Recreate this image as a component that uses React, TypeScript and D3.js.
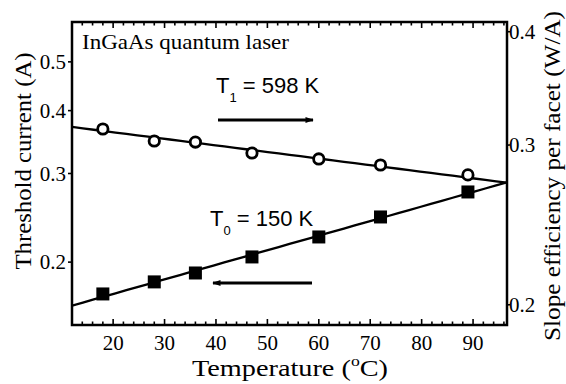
import React from "react";
import * as d3 from "d3";

const temps = [18, 28, 36, 47, 60, 72, 89];
const threshold = [0.1729, 0.1827, 0.1903, 0.2048, 0.2244, 0.2459, 0.2757];
const slope = [0.3125, 0.3031, 0.3023, 0.294, 0.2896, 0.2852, 0.2781];
const T0 = 150;
const T1 = 598;
const xTicks = [20, 30, 40, 50, 60, 70, 80, 90];
const leftTicks = [0.2, 0.3, 0.4, 0.5];
const rightTicks = [0.2, 0.3, 0.4];

const W = 566, H = 384;
const L = 72, R = 507, T = 22, B = 325;
const SERIF = "Liberation Serif";
const SANS = "Liberation Sans";

export default function App() {
  const x = d3.scaleLinear().domain([12, 96.6]).range([L, R]);
  const yL = d3.scaleLog().domain([0.15, 0.6]).range([B, T]);
  const yR = d3.scaleLog().domain([0.19, 0.41]).range([B, T]);

  // exponential fits with fixed characteristic temperatures
  const aTh = d3.mean(temps.map((t, i) => Math.log(threshold[i]) - t / T0))!;
  const aSl = d3.mean(temps.map((t, i) => Math.log(slope[i]) + t / T1))!;
  const dom = x.domain();
  const fitTs = d3.range(dom[0], dom[1] + 0.01, (dom[1] - dom[0]) / 40);
  const thLine = d3.line<number>().x((t) => x(t)).y((t) => yL(Math.exp(aTh + t / T0)));
  const slLine = d3.line<number>().x((t) => x(t)).y((t) => yR(Math.exp(aSl - t / T1)));

  const minor = d3.range(12, 97, 2);
  const sw = 2.5;

  return (
    <svg width={W} height={H} style={{ position: "absolute", left: 0, top: 0, background: "#fff" }}>
      <defs>
        <clipPath id="plot">
          <rect x={L} y={T} width={R - L} height={B - T} />
        </clipPath>
        <marker id="ah" viewBox="0 0 10 10" refX="9" refY="5" markerWidth="5" markerHeight="2.6" orient="auto-start-reverse" markerUnits="strokeWidth">
          <path d="M0,1.5 L10,5 L0,8.5 z" fill="#000" />
        </marker>
      </defs>

      {/* fit lines */}
      <g clipPath="url(#plot)">
        <path d={thLine(fitTs)!} fill="none" stroke="#000" strokeWidth={2.3} />
        <path d={slLine(fitTs)!} fill="none" stroke="#000" strokeWidth={2.3} />
      </g>

      {/* markers */}
      {temps.map((t, i) => (
        <circle key={"c" + i} cx={x(t)} cy={yR(slope[i])} r={5.2} fill="#fff" stroke="#000" strokeWidth={2.8} />
      ))}
      {temps.map((t, i) => (
        <rect key={"s" + i} x={x(t) - 6.5} y={yL(threshold[i]) - 6.5} width={13} height={13} fill="#000" />
      ))}

      {/* frame */}
      <rect x={L} y={T} width={R - L} height={B - T} fill="none" stroke="#000" strokeWidth={sw} />

      {/* x ticks */}
      {minor.map((t) => {
        const major = t % 10 === 0;
        const len = major ? 6 : 3.5;
        return (
          <g key={"xt" + t}>
            <line x1={x(t)} x2={x(t)} y1={B} y2={B - len} stroke="#000" strokeWidth={1.6} />
            <line x1={x(t)} x2={x(t)} y1={T} y2={T + len} stroke="#000" strokeWidth={1.6} />
          </g>
        );
      })}
      {xTicks.map((t) => (
        <text key={"xl" + t} x={x(t)} y={350} textAnchor="middle" fontFamily={SERIF} fontSize={21}>
          {t}
        </text>
      ))}

      {/* left ticks */}
      {leftTicks.map((v) => (
        <g key={"lt" + v}>
          <line x1={L - 4} x2={L} y1={yL(v)} y2={yL(v)} stroke="#000" strokeWidth={1.6} />
          <text x={66} y={yL(v) + 7} textAnchor="end" fontFamily={SERIF} fontSize={21}>
            {v.toFixed(1)}
          </text>
        </g>
      ))}

      {/* right ticks */}
      {rightTicks.map((v) => (
        <g key={"rt" + v}>
          <line x1={R} x2={R + 3} y1={yR(v)} y2={yR(v)} stroke="#000" strokeWidth={1.6} />
          <text x={509} y={yR(v) + 7} textAnchor="start" fontFamily={SERIF} fontSize={21}>
            {v.toFixed(1)}
          </text>
        </g>
      ))}

      {/* axis titles */}
      <text x={290} y={376} textAnchor="middle" fontFamily={SERIF} fontSize={24} textLength={196} lengthAdjust="spacingAndGlyphs">
        Temperature (<tspan fontSize={15} dy={-10}>o</tspan><tspan dy={10}>C)</tspan>
      </text>
      <text transform={`translate(31,161) rotate(-90)`} textAnchor="middle" fontFamily={SERIF} fontSize={24} textLength={217} lengthAdjust="spacingAndGlyphs">
        Threshold current (A)
      </text>
      <text transform={`translate(560,176) rotate(-90)`} textAnchor="middle" fontFamily={SERIF} fontSize={24} textLength={330} lengthAdjust="spacingAndGlyphs">
        Slope efficiency per facet (W/A)
      </text>

      {/* annotations */}
      <text x={82} y={49} fontFamily={SERIF} fontSize={21} textLength={207} lengthAdjust="spacingAndGlyphs">
        InGaAs quantum laser
      </text>
      <text x={216} y={93} fontFamily={SANS} fontSize={22}>
        T<tspan fontSize={13} dy={9}>1</tspan><tspan dy={-9}> = 598 K</tspan>
      </text>
      <text x={210} y={226} fontFamily={SANS} fontSize={22}>
        T<tspan fontSize={13} dy={9}>0</tspan><tspan dy={-9}> = 150 K</tspan>
      </text>
      <line x1={218} x2={313} y1={120} y2={120} stroke="#000" strokeWidth={3.2} markerEnd="url(#ah)" />
      <line x1={312} x2={213} y1={283} y2={283} stroke="#000" strokeWidth={3.2} markerEnd="url(#ah)" />
    </svg>
  );
}
